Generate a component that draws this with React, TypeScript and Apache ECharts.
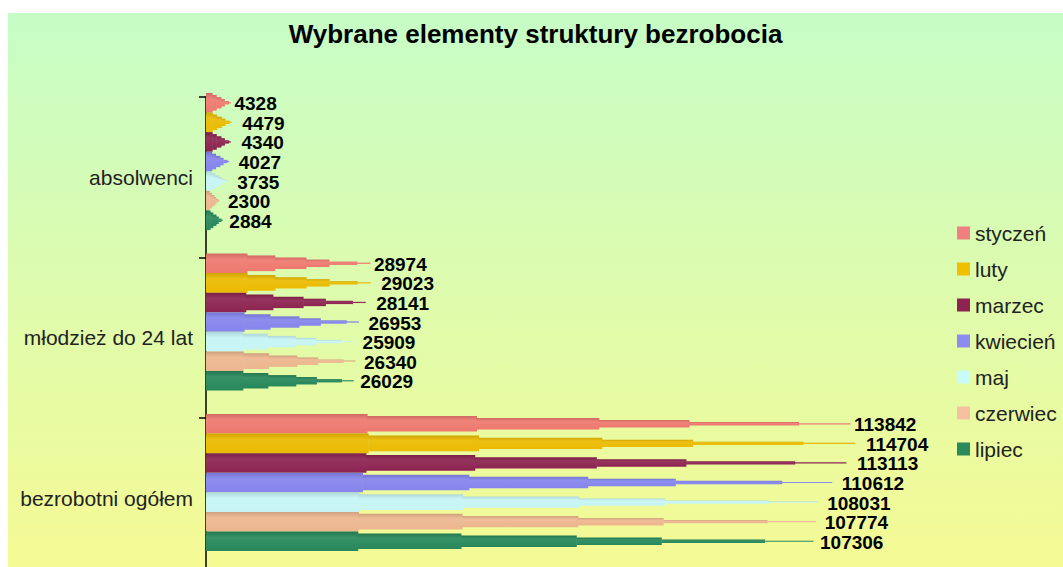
import React, { useEffect, useRef } from "react";
import * as echarts from "echarts";

const TITLE = "Wybrane elementy struktury bezrobocia";
const CATEGORIES = ["absolwenci", "młodzież do 24 lat", "bezrobotni ogółem"];
const MONTHS = ["styczeń", "luty", "marzec", "kwiecień", "maj", "czerwiec", "lipiec"];
// values per month: [absolwenci, młodzież do 24 lat, bezrobotni ogółem]
const STYCZEN = [4328, 28974, 113842];
const LUTY = [4479, 29023, 114704];
const MARZEC = [4340, 28141, 113113];
const KWIECIEN = [4027, 26953, 110612];
const MAJ = [3735, 25909, 108031];
const CZERWIEC = [2300, 26340, 107774];
const LIPIEC = [2884, 26029, 107306];
const SERIES_VALUES = [STYCZEN, LUTY, MARZEC, KWIECIEN, MAJ, CZERWIEC, LIPIEC];

const COLORS = ["#ee786e", "#ebbb00", "#8c2350", "#8484ec", "#c6f4f4", "#ecb68e", "#27875a"];
const LEGEND_COLORS = ["#f08080", "#f0c000", "#8c2350", "#8c8cf0", "#c8fcfc", "#f5c0a0", "#2a8a5a"];
// small horizontal gaps between bar tip and its value label, per month
const LABEL_GAP = [4, 11, 11, 10, 10, 9, 7];

// cone-like stepped profile: [end fraction of length, thickness fraction]
const PROFILE: [number, number][] = [
  [0.25, 1.0],
  [0.42, 0.8],
  [0.61, 0.58],
  [0.75, 0.38],
  [0.92, 0.17],
  [1.0, 0.06],
];

function shade(hex: string, f: number) {
  const n = parseInt(hex.slice(1), 16);
  let r = (n >> 16) & 255, g = (n >> 8) & 255, b = n & 255;
  const t = f < 0 ? 0 : 255;
  const p = Math.abs(f);
  r = Math.round((t - r) * p + r);
  g = Math.round((t - g) * p + g);
  b = Math.round((t - b) * p + b);
  return `rgb(${r},${g},${b})`;
}

const FONT = '"Liberation Sans", Arial, sans-serif';

export default function App() {
  const ref = useRef<HTMLDivElement>(null);
  useEffect(() => {
    if (!ref.current) return;
    document.body.style.overflow = "hidden";
    const chart = echarts.init(ref.current, undefined, { renderer: "svg" });
    const series = SERIES_VALUES.map((vals, s) => ({
      type: "custom",
      name: MONTHS[s],
      itemStyle: { color: LEGEND_COLORS[s] },
      encode: { x: 0, y: 1 },
      data: vals.map((v, i) => [v, i]),
      renderItem: (params: any, api: any) => {
        const val = api.value(0);
        const cat = api.value(1);
        const start = api.coord([0, cat]);
        const end = api.coord([val, cat]);
        const band = api.size([0, 1])[1];
        const bandStart = start[1] - band / 2;
        const slot = band * 0.122;
        const top = bandStart - band * 0.025 + s * slot;
        const cy = top + slot / 2;
        const len = end[0] - start[0];
        const base = COLORS[s];
        const fill = new echarts.graphic.LinearGradient(0, 0, 0, 1, [
          { offset: 0, color: shade(base, -0.12) },
          { offset: 0.3, color: shade(base, 0.08) },
          { offset: 1, color: base },
        ]);
        const children: any[] = [];
        let prev = 0;
        PROFILE.forEach(([endF, thick]) => {
          const h = Math.max(1.2, slot * thick);
          children.push({
            type: "rect",
            shape: { x: start[0] + prev * len, y: cy - h / 2, width: (endF - prev) * len + 0.5, height: h },
            style: { fill },
          });
          prev = endF;
        });
        children.push({
          type: "text",
          style: {
            text: String(val),
            x: end[0] + LABEL_GAP[s],
            y: cy + 1,
            verticalAlign: "middle",
            align: "left",
            fill: "#000",
            font: `bold 19px ${FONT}`,
            lineHeight: 17,
          },
        });
        return { type: "group", children };
      },
    }));

    chart.setOption({
      animation: false,
      backgroundColor: new echarts.graphic.LinearGradient(0, 0, 0, 1, [
        { offset: 0, color: "#c6fdc6" },
        { offset: 1, color: "#f5fa94" },
      ]),
      title: {
        text: TITLE,
        left: "center",
        top: 3,
        textStyle: { fontFamily: FONT, fontSize: 26, fontWeight: "bold", color: "#000" },
      },
      legend: {
        orient: "vertical",
        left: 944,
        top: 204,
        icon: "rect",
        itemWidth: 13,
        itemHeight: 13,
        itemGap: 14,
        data: MONTHS.map((m, i) => ({ name: m, itemStyle: { color: LEGEND_COLORS[i] } })),
        textStyle: { fontFamily: FONT, fontSize: 21, color: "#222", lineHeight: 22 },
      },
      grid: {
        left: 198,
        top: 84,
        width: 792,
        height: 481.5,
        containLabel: false,
        outerBoundsMode: "none",
      },
      xAxis: {
        type: "value",
        min: 0,
        max: 140000,
        show: false,
        splitLine: { show: false },
      },
      yAxis: {
        type: "category",
        inverse: true,
        data: CATEGORIES,
        axisLine: { show: true, lineStyle: { color: "#000", width: 1.5 } },
        axisTick: { show: true, length: 7, lineStyle: { color: "#000", width: 1.5 } },
        axisLabel: { fontFamily: FONT, fontSize: 21, color: "#222", margin: 13, padding: [8, 0, 0, 0] },
      },
      series,
    });
    return () => chart.dispose();
  }, []);
  return (
    <div
      ref={ref}
      style={{ position: "absolute", left: 8, top: 13, width: 1055, height: 554 }}
    />
  );
}
